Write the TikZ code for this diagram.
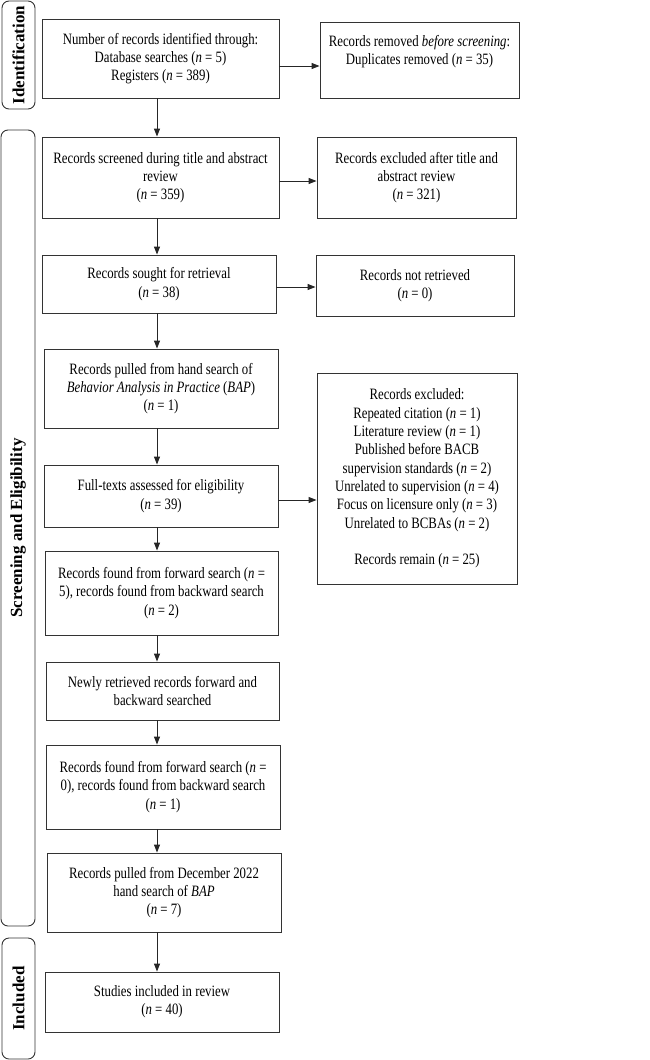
\documentclass[tikz,border=0pt]{standalone}
\usepackage{fontspec}
\setmainfont[FakeStretch=0.81]{Liberation Serif}
\newfontfamily\phasefont{Liberation Serif}
\usetikzlibrary{arrows.meta}

\begin{document}
\begin{tikzpicture}
    [x=1pt,y=-1pt,
    boxtext/.style={align=center,inner sep=2pt,font=\fontsize{15.8}{18.3}\selectfont},
    box/.style={boxtext,rectangle,draw=black!80,line width=0.9pt},
    phase/.style={rectangle,rounded corners=7pt,draw=black!80,line width=0.9pt,
        rotate=90,inner sep=0pt,font=\phasefont\fontsize{17}{18}\selectfont\bfseries},
    arr/.style={draw=black!85,line width=0.9pt,-{Triangle[length=8pt,width=6pt]}}]
    \useasboundingbox (0,0) rectangle (650,1060);

    % phase labels
    \node (labid) at (18.5,55) [phase,minimum width=108pt,minimum height=33pt] {Identification};
    \node (labscr) at (18,528) [phase,minimum width=796pt,minimum height=34pt] {Screening and Eligibility};
    \node (labinc) at (18.5,998.5) [phase,minimum width=121pt,minimum height=33pt] {Included};

    % main column
    \node (id1) at (160.5,58.5) [box,minimum width=237pt,minimum height=79pt]
        {Number of records identified through:\\Database searches (\textit{n} = 5)\\Registers (\textit{n} = 389)};
    \node (scr) at (160.5,177.5) [box,minimum width=237pt,minimum height=81pt]
        {Records screened during title and abstract\\review\\(\textit{n} = 359)};
    \node (seek) at (159,284) [box,minimum width=234pt,minimum height=58pt]
        {Records sought for retrieval\\(\textit{n} = 38)};
    \node (hand) at (161,388.5) [box,minimum width=234pt,minimum height=79pt]
        {Records pulled from hand search of\\\textit{Behavior Analysis in Practice} (\textit{BAP})\\(\textit{n} = 1)};
    \node (full) at (161,496) [box,minimum width=234pt,minimum height=62pt]
        {Full-texts assessed for eligibility\\(\textit{n} = 39)};
    \node (fwd1) at (161.5,593) [box,minimum width=233pt,minimum height=84pt]
        {Records found from forward search (\textit{n} =\\5), records found from backward search\\(\textit{n} = 2)};
    \node (newly) at (162.5,691) [box,minimum width=233pt,minimum height=58pt]
        {Newly retrieved records forward and\\backward searched};
    \node (fwd2) at (163,787) [box,minimum width=234pt,minimum height=84pt]
        {Records found from forward search (\textit{n} =\\0), records found from backward search\\(\textit{n} = 1)};
    \node (dec) at (164,892.5) [box,minimum width=234pt,minimum height=79pt]
        {Records pulled from December 2022\\hand search of \textit{BAP}\\(\textit{n} = 7)};
    \node (incl) at (162,1002) [box,minimum width=234pt,minimum height=60pt]
        {Studies included in review\\(\textit{n} = 40)};

    % side column
    \node (rem) at (419.5,60) [box,minimum width=199pt,minimum height=76pt] {};
    \node (remtxt) at ([yshift=8.5pt]rem.center) [boxtext]
        {Records removed \textit{before screening}:\\Duplicates removed (\textit{n} = 35)};
    \node (exc1) at (416.5,177.5) [box,minimum width=199pt,minimum height=81pt]
        {Records excluded after title and\\abstract review\\(\textit{n} = 321)};
    \node (notret) at (415,285.5) [box,minimum width=198pt,minimum height=61pt]
        {Records not retrieved\\(\textit{n} = 0)};
    \node (exc2) at (417,478.5) [box,minimum width=200pt,minimum height=211pt]
        {Records excluded:\\Repeated citation (\textit{n} = 1)\\Literature review (\textit{n} = 1)\\
         Published before BACB\\supervision standards (\textit{n} = 2)\\
         Unrelated to supervision (\textit{n} = 4)\\Focus on licensure only (\textit{n} = 3)\\
         Unrelated to BCBAs (\textit{n} = 2)\\[18.3pt]Records remain (\textit{n} = 25)};

    % arrows
    \coordinate (spine) at (157,0);
    \draw[arr] (id1.south -| spine) -- (scr.north -| spine);
    \draw[arr] (scr.south -| spine) -- (seek.north -| spine);
    \draw[arr] (seek.south -| spine) -- (hand.north -| spine);
    \draw[arr] (hand.south -| spine) -- (full.north -| spine);
    \draw[arr] (full.south -| spine) -- (fwd1.north -| spine);
    \draw[arr] (fwd1.south -| spine) -- (newly.north -| spine);
    \draw[arr] (newly.south -| spine) -- (fwd2.north -| spine);
    \draw[arr] (fwd2.south -| spine) -- (dec.north -| spine);
    \draw[arr] (dec.south -| spine) -- (incl.north -| spine);

    \draw[arr] ([yshift=-7.5pt]id1.east) -- ([yshift=-7.5pt]id1.east -| rem.west);
    \draw[arr] ([yshift=-3.5pt]scr.east) -- ([yshift=-3.5pt]scr.east -| exc1.west);
    \draw[arr] ([yshift=-3pt]seek.east) -- ([yshift=-3pt]seek.east -| notret.west);
    \draw[arr] ([yshift=-4pt]full.east) -- ([yshift=-4pt]full.east -| exc2.west);
\end{tikzpicture}
\end{document}
